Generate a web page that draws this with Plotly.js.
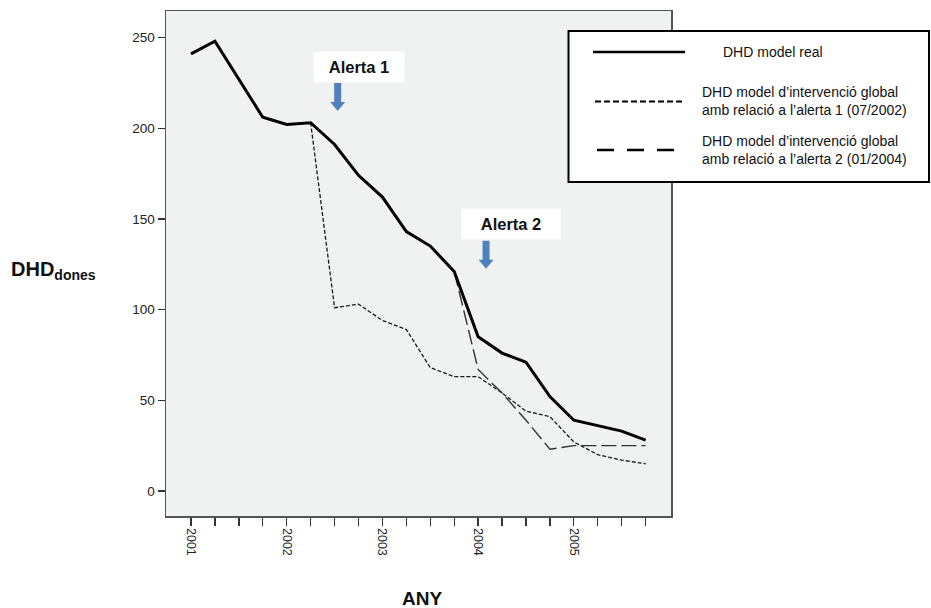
<!DOCTYPE html>
<html><head><meta charset="utf-8">
<script src="https://cdn.plot.ly/plotly-3.0.1.min.js"></script>
<style>html,body{margin:0;padding:0;background:#fff;}#chart{width:931px;height:608px;}</style>
</head><body><div id="chart"></div>
<script>
// Quarterly points, 2001 Q1 .. 2005 Q4 (index 0..19)
const quarterIndex = [0,1,2,3,4,5,6,7,8,9,10,11,12,13,14,15,16,17,18,19];
const yearTickVals = [0,4,8,12,16];
const yearTickText = ["2001","2002","2003","2004","2005"];
const yTickVals = [0,50,100,150,200,250];

const realValues   = [241,248,227,206,202,203,191,174,162,143,135,121,85,76,71,52,39,36,33,28];
const alert1Values = [null,null,null,null,null,203,101,103,94,89,68,63,63,54,44,41,27,20,17,15];
const alert2Values = [null,null,null,null,null,null,null,null,null,null,null,121,67,54,39,23,25,25,25,25];

const seriesNames = [
  "DHD model real",
  "DHD model d\u2019intervenció global<br>amb relació a l\u2019alerta 1 (07/2002)",
  "DHD model d\u2019intervenció global<br>amb relació a l\u2019alerta 2 (01/2004)"
];
const alertLabels = ["Alerta 1","Alerta 2"];
const alertArrowX = [6.13, 12.33];
const alertArrowTip = [209.5, 122.5];
const alertLabelX = [7.03, 13.37];
const alertLabelY = [234, 147];

const styles = [
  {color:'#000', width:3, dash:'solid', legendDash:'solid', legendWidth:2.5},
  {color:'#1a1a1a', width:1.3, dash:'4px,2px', legendDash:'6px,3px', legendWidth:2},
  {color:'#333', width:1.4, dash:'15px,5px', legendDash:'17px,13px', legendWidth:2.5}
];
const seriesValues = [realValues, alert1Values, alert2Values];

const traces = seriesValues.map((v,i)=>({
  x: quarterIndex, y: v, type:'scatter', mode:'lines', name: seriesNames[i],
  line:{color:styles[i].color, width:styles[i].width, dash:styles[i].dash},
  connectgaps:false, showlegend:false, hoverinfo:'skip'
}));
// draw real line on top
traces.push(traces.shift());

const font = "Liberation Sans, Arial, Helvetica, sans-serif";
const annotations = [];
const shapes = [];

// block arrow outline in pixels, tip at anchor, y positive up
const arrowPath = 'M-3.5,28 L3.5,28 L3.5,9 L7.5,9 L0,0 L-7.5,9 L-3.5,9 Z';
alertLabels.forEach((t,i)=>{
  annotations.push({
    x: alertLabelX[i], y: alertLabelY[i], xref:'x', yref:'y', text:'<b>'+t+'</b>',
    showarrow:false, bgcolor:'#ffffff', font:{family:font, size:16.5, color:'#111'},
    width: i===0?86:94, height:26, borderpad:2
  });
  shapes.push({
    type:'path', xref:'x', yref:'y', xsizemode:'pixel', ysizemode:'pixel',
    xanchor: alertArrowX[i], yanchor: alertArrowTip[i], path: arrowPath,
    fillcolor:'#4f81bd', line:{width:0}, layer:'above'
  });
});

// Legend box (paper coordinates)
const pl = 166, pw = 505, pt = 11, ph = 505;
function px(x){return (x-pl)/pw;}
function py(y){return 1-(y-pt)/ph;}
shapes.push({type:'rect', xref:'paper', yref:'paper', x0:px(568.5), x1:px(929), y0:py(31), y1:py(182),
  line:{color:'#000', width:2}, fillcolor:'#ffffff', layer:'above'});
const legY = [52, 101.5, 150];
const legX0 = [593, 595, 597], legX1 = [685, 685, 679];
styles.forEach((s,i)=>{
  shapes.push({type:'line', xref:'paper', yref:'paper', x0:px(legX0[i]), x1:px(legX1[i]), y0:py(legY[i]), y1:py(legY[i]),
    line:{color:'#000', width:s.legendWidth, dash:s.legendDash}, layer:'above'});
});
annotations.push({xref:'paper', yref:'paper', x:px(721), y:py(52), xanchor:'left', yanchor:'middle',
  text:seriesNames[0], showarrow:false, font:{family:font, size:14, color:'#111'}, align:'left'});
[1,2].forEach(i=>{
  annotations.push({xref:'paper', yref:'paper', x:px(700), y:py(legY[i]), xanchor:'left', yanchor:'middle',
    text:seriesNames[i], showarrow:false, font:{family:font, size:14, color:'#111'}, align:'left'});
});

// Axis titles
annotations.push({xref:'paper', yref:'paper', x:px(422), y:py(598), xanchor:'center', yanchor:'middle',
  text:'<b>ANY</b>', showarrow:false, font:{family:font, size:19, color:'#111'}});
annotations.push({xref:'paper', yref:'paper', x:px(9), y:py(270), xanchor:'left', yanchor:'middle',
  text:'<b>DHD<sub>dones</sub></b>', showarrow:false, font:{family:font, size:20, color:'#111'}});

const layout = {
  width:931, height:608,
  margin:{l:166, r:260, t:11, b:92, pad:0},
  paper_bgcolor:'#ffffff', plot_bgcolor:'#f0f1f1',
  showlegend:false,
  xaxis:{range:[-1.045,20.06], tickmode:'array',
    tickvals: yearTickVals, ticktext: yearTickText,
    minor:{tickmode:'array', tickvals: quarterIndex, ticks:'outside', ticklen:8, tickwidth:1.3, tickcolor:'#333', showgrid:false},
    tickangle:90, ticks:'outside', ticklen:8, tickwidth:1.3, tickcolor:'#333',
    showline:true, linecolor:'#555', linewidth:1.5, mirror:true,
    showgrid:false, zeroline:false, tickfont:{family:font, size:12.5, color:'#222'}},
  yaxis:{range:[-13.8,264.6], tickmode:'array', tickvals:yTickVals,
    ticks:'outside', ticklen:7, tickwidth:1.3, tickcolor:'#333',
    showline:true, linecolor:'#555', linewidth:1.5, mirror:true,
    showgrid:false, zeroline:false, tickfont:{family:font, size:13.5, color:'#222'}},
  annotations, shapes
};
Plotly.newPlot('chart', traces, layout, {staticPlot:true, displayModeBar:false});
</script></body></html>
